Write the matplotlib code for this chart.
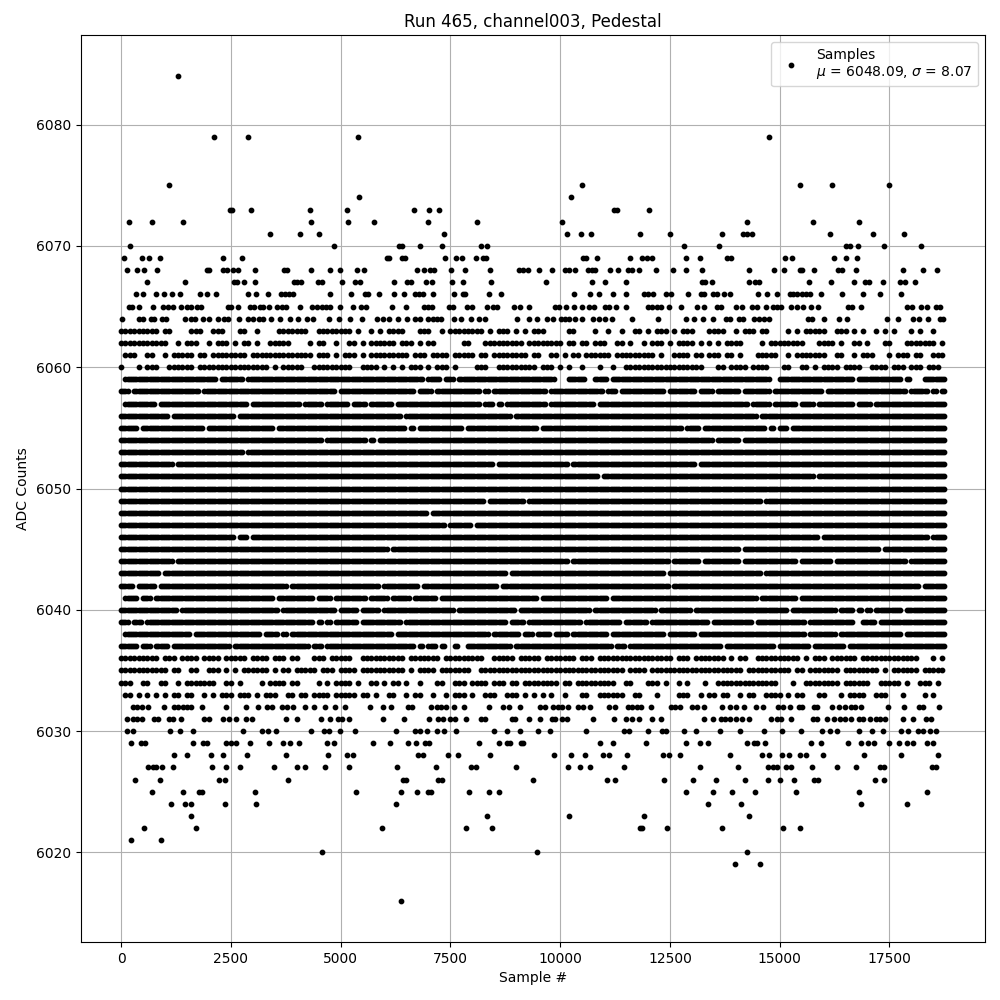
import matplotlib
matplotlib.use('Agg')
import matplotlib.pyplot as plt

# sparse levels: sample numbers
adc_6016 = [6379]
adc_6019 = [13985, 14560]
adc_6020 = [4580, 9477, 14260]
adc_6021 = [234, 921]
adc_6022 = [534, 1708, 5954, 7865, 8452, 11825, 11862, 12437, 13698, 15085, 15472]
adc_6023 = [1595, 8340, 10213, 11912, 14310]
adc_6024 = [1146, 1458, 1583, 2370, 3082, 6267, 13373, 14123, 16858, 17907]
adc_6025 = [696, 1420, 1783, 1845, 3057, 5355, 6379, 6741, 6991, 7066, 7928, 8390, 8615, 12874, 13486, 13923, 14448,
            15372, 16808, 18357]
adc_6026 = [327, 896, 2239, 2376, 3810, 6421, 6490, 7230, 7310, 9389, 11074, 11256, 12372, 13032, 13556, 14217, 14740,
            15014, 15332, 15788, 15879, 17177, 17382]
adc_6027 = [622, 736, 797, 941, 1192, 2072, 2399, 2717, 3491, 4015, 4197, 4653, 5199, 6292, 7180, 7977, 8091, 9002,
            10186, 10459, 10687, 11461, 13192, 14057, 14740, 14854, 14945, 15150, 15264, 15742, 16311, 16744, 17291,
            17382, 18475, 18566]
adc_6028 = [1214, 1511, 2057, 2330, 2877, 3765, 4721, 5154, 5290, 6770, 6884, 7454, 7681, 8410, 9867, 10254, 10573,
            10983, 11120, 11529, 12349, 12486, 12736, 13875, 14604, 14763, 15059, 15218, 15469, 15606, 15993, 16926,
            17769, 18611]
adc_6029 = [235, 463, 546, 1632, 1875, 1966, 2399, 2512, 2626, 2938, 3378, 3697, 3856, 4061, 4698, 4858, 5746, 6133,
            6543, 6725, 6930, 7021, 8159, 8615, 8797, 8865, 9116, 9161, 10915, 11211, 11962, 12873, 13192, 13374,
            14262, 14422, 14490, 14672, 15720, 15947, 16562, 16858, 17017, 17154, 17495, 17723, 17905, 18042, 18361,
            18497]
adc_6030 = [144, 281, 1123, 1351, 1647, 2786, 3218, 3355, 3537, 4334, 4630, 4744, 4994, 5336, 6269, 6702, 6816, 6975,
            7203, 7362, 7636, 8501, 8797, 9093, 9503, 9776, 10596, 11461, 11575, 12008, 12326, 12417, 12827, 13100,
            13647, 14103, 14649, 15059, 15492, 15963, 16152, 16311, 16812, 17108, 17359, 17769, 17928, 18156, 18270,
            18431, 18566]
adc_6031 = [144, 281, 372, 486, 759, 850, 1101, 1192, 1374, 1898, 2012, 2330, 2467, 2626, 2854, 2991, 3765, 4015, 4562,
            4767, 4949, 5040, 5199, 5974, 6444, 7021, 7226, 7340, 7499, 7613, 7863, 8205, 8296, 8911, 8979, 9298, 9548,
            9822, 9890, 10049, 10163, 10755, 11233, 11506, 11643, 11803, 12099, 12304, 13283, 13488, 13670, 13761,
            13875, 14012, 14148, 14308, 14809, 14945, 15036, 15264, 15765, 15856, 16084, 16243, 16380, 16494, 16630,
            16812, 16904, 17063, 17200, 17291, 17404, 17814, 18042, 18338, 18452]
adc_6032 = [281, 372, 486, 622, 987, 1214, 1305, 1420, 1511, 1602, 1852, 2399, 2854, 3127, 3332, 3446, 3674, 3787, 3924,
            4197, 4402, 4653, 4880, 5108, 5677, 5974, 6155, 6543, 6634, 7066, 7203, 7294, 7408, 7590, 7818, 8387, 8706,
            8843, 9093, 9548, 9662, 9844, 9958, 10049, 10186, 10414, 10528, 10687, 11120, 11256, 11552, 11643, 11757,
            11848, 12076, 12531, 12622, 12736, 13009, 13124, 13283, 13693, 13875, 14012, 14194, 14467, 14626, 14968,
            15082, 15241, 15446, 15515, 15788, 15856, 16198, 16357, 16494, 16630, 16721, 16858, 17473, 17837, 18178,
            18270, 18634]
adc_6064 = [31, 418, 509, 691, 759, 941, 1032, 1465, 1602, 1693, 1875, 2012, 2216, 2353, 2444, 2695, 2900, 3013, 3150,
            3241, 3423, 3628, 3856, 4038, 4243, 4380, 4744, 4972, 5222, 5495, 5837, 5974, 6110, 6315, 6520, 6702, 6816,
            6998, 7112, 7203, 7294, 7590, 7750, 7977, 8159, 8296, 9025, 9298, 9480, 9708, 9844, 10027, 10118, 10209,
            10345, 10505, 10755, 10892, 11028, 11188, 11643, 12235, 12873, 13055, 13260, 13488, 13784, 13875, 14080,
            14171, 14422, 14535, 14649, 14763, 15651, 15742, 16015, 16357, 16539, 17450, 17700, 18042, 18178, 18384,
            18657, 18725]
adc_6065 = [190, 258, 418, 736, 964, 1078, 1192, 1374, 1511, 1602, 1738, 1829, 2444, 2512, 2672, 2945, 3036, 3173, 3241,
            3378, 3560, 3674, 3765, 4083, 4357, 4471, 4585, 4675, 4767, 4994, 5290, 5472, 5586, 6178, 6497, 6907, 6998,
            7089, 7476, 7567, 7886, 8000, 8342, 8478, 8569, 8956, 9093, 9298, 9890, 9981, 10140, 10323, 10505, 10664,
            10778, 11028, 11120, 11279, 11507, 12008, 12099, 12213, 12304, 12486, 12759, 13124, 13283, 13579, 13670,
            14012, 14148, 14376, 14490, 14695, 14854, 14945, 15036, 15264, 15401, 15538, 15719, 15879, 16562, 16653,
            16858, 17905, 18020, 18224, 18361, 18566, 18657]
adc_6066 = [349, 509, 805, 987, 1169, 1351, 1806, 1966, 2171, 2900, 3082, 3355, 3651, 3742, 3833, 3924, 4767, 5245, 5564,
            5632, 5882, 6224, 6452, 6702, 6793, 6884, 7112, 7590, 7795, 7841, 8387, 8660, 10323, 10687, 10892, 11211,
            11507, 11917, 12008, 12122, 12417, 12531, 12919, 13215, 13283, 13488, 13579, 13738, 13875, 14513, 14718,
            14945, 15241, 15310, 15401, 15515, 15606, 15697, 15947, 16425, 16904, 17291, 17769]
adc_6067 = [600, 1465, 2581, 2649, 2808, 3059, 3947, 4015, 4106, 4493, 4585, 5040, 5336, 5450, 6224, 6505, 6596, 6953,
            7089, 7545, 7795, 8433, 9685, 10733, 11028, 11507, 13238, 13306, 13465, 14308, 14444, 14535, 15674, 16175,
            16699, 16949, 17040, 17359, 17746, 17860, 18088]
adc_6068 = [144, 372, 531, 827, 1951, 2012, 2330, 2421, 2558, 2664, 3059, 3719, 3780, 4334, 4767, 4994, 5381, 5541, 6748,
            6907, 7044, 7135, 7522, 7841, 8410, 9070, 9161, 9275, 9526, 9822, 10118, 10209, 10345, 10642, 10733, 10801,
            11142, 11325, 11552, 11643, 11803, 12190, 12577, 12858, 13238, 14308, 14877, 15105, 15469, 15515, 15788,
            16334, 16425, 16744, 17814, 18270, 18589]
adc_6069 = [76, 478, 630, 896, 2330, 2763, 6049, 6095, 6391, 6459, 7385, 7628, 7772, 8091, 8250, 8311, 10512, 10588,
            10846, 11598, 11871, 11970, 12099, 12873, 13192, 13792, 13883, 15127, 15272, 16243, 16516, 16767]
adc_6070 = [213, 4858, 6338, 6391, 6816, 7317, 8205, 8342, 12827, 13625, 16501, 16600, 16790, 17382, 18224]
adc_6071 = [3400, 4083, 4516, 7362, 10163, 10482, 10710, 11825, 12493, 13678, 14156, 14247, 14361, 16152, 17131, 17837]
adc_6072 = [171, 708, 1420, 4331, 5180, 5767, 6991, 8115, 10051, 14260, 15759, 16808]
adc_6073 = [2490, 2530, 2969, 4306, 5155, 6679, 7016, 7253, 11225, 11300, 12025]
adc_6074 = [5430, 10250]
adc_6075 = [1096, 10500, 15472, 16196, 17495]
adc_6079 = [2120, 2894, 5405, 14760]
adc_6084 = [1308]

sparse_rows = [(6016, adc_6016), (6019, adc_6019), (6020, adc_6020), (6021, adc_6021), (6022, adc_6022),
               (6023, adc_6023), (6024, adc_6024), (6025, adc_6025), (6026, adc_6026), (6027, adc_6027),
               (6028, adc_6028), (6029, adc_6029), (6030, adc_6030), (6031, adc_6031), (6032, adc_6032),
               (6064, adc_6064), (6065, adc_6065), (6066, adc_6066), (6067, adc_6067), (6068, adc_6068),
               (6069, adc_6069), (6070, adc_6070), (6071, adc_6071), (6072, adc_6072), (6073, adc_6073),
               (6074, adc_6074), (6075, adc_6075), (6079, adc_6079), (6084, adc_6084)]

# edge of the band: one character per 100 samples, # = a sample is seen there
coarse_width = 100
mask_6033 = ".##.#.#.#. #.##.##..# .#.###.### .#.###..## .##.####.# ####.##.#. .##..#.##. .#..#.###. #..###..## #.#.#.#.#. .#...##..# #####..##. ..#....### ..#.##.##. .#.##..### #.#.##...# #...#.#### ..###...#. ...#.#.."
mask_6034 = "###..##..# #..#.##### ##..##.#.. ..#.####.# #....#.#.# ###.#..##. #.##.#..#. ..##..###. ####.###.# #.######## .##.###### ###..##... ###.#..#.# ...#..#### ########## ...#..#### ####.##### #..#####.# ..###.#."
mask_6035 = "########## #.##..##.. ###.#.#.## ####.#.##. #####.###. ####.##### #####.#.## ##.####### ..######## ########## ########## #####.#### .######### ########## ##.####### ###.##.### ####.##### ###.#.#### ##.#####"
mask_6036 = "#########. ###.####.# ###.#####. ####.###.# #...###.## ###..##### #####.#### ###.###### ###..##### .#####.### ####.###.# ########## ######.### .#######.# .##..##### #####.#.## #.######.# ########## ##...#.#"
mask_6060 = "#...#.###. .######.## ########## ####.#.### ##..###### ###..####. #.#.#.###. #.###.#... .###..#### #####.###. #.#..#...# ..#..##### ########## ###...##.# ###.####.. .##..##.#. ####.####. .####.###. ###.###."
mask_6061 = ".###..##.. #.#####.## .########. ########## ####.###.# .###.#.### ######.### .####.#### #.##.##### ###.##..## .#.##.#### ##.####### ##.#..#### .##.###.## .#...##### ..#.###### #..##..#.# ##...#.### .##..###"
mask_6062 = "########## #..#.###.. #.###.#.## .#..#####. ...#.##..# ..##.#.### ###.###.#. ##......## ...####### ##.####### #.##.##.## #..##.#..# .###.#.### #.#.#.#.## ##....#.## ######...# ###.#..##. #...##...# ######.#"
mask_6063 = "#########. ##....###. .###...##. .#....#### ###..##### ###.#..#.# .####...## #..#.##### ###.#.###. #.#.###... ..##....#. .#..#..##. #.###.#.## #...####.. #.###.##.. ..#.#.#### #..###.#.# ..#.#.#... #.#..#.."

coarse_rows = [(6033, mask_6033), (6034, mask_6034), (6035, mask_6035), (6036, mask_6036),
               (6060, mask_6060), (6061, mask_6061), (6062, mask_6062), (6063, mask_6063)]

# middle of the band: one character per 50 samples
fine_width = 50
mask_6037 = "########..####..#### ##..################ ##########..######## #################### ######..####..###### #################### ##############..##.. ####..##....##....## ##################.. #################### #################### ####..####..######## #################### ##############..#### ##################.. ##############..#### ##########..######## #################### ################"
mask_6038 = "..################## ############..###### #################### ####..######..##..## #################### #################### ####..############## #################### ########..########## ##..####..######..## ####..############## ##..################ ########..########## ##..################ #################### ############..###### ######..############ ################..## ################"
mask_6039 = "####..####..######## #################### #################### #################### ########..##..##..## ########..########## ########..########## #################### ################..## ####..############## ##########..######## ########..########## ..################## ########..########## ########..########## ############..###### ##############....## ####..############## ################"
mask_6040 = "#################### ######..############ #################### ############..###### ##################.. ########..########.. #################### ############..###### #################### ..################## ##############..#### #################### ####..############## ..################## #################### ####..############## ######..######..##.. ##..############..## ################"
mask_6041 = "..######..####..#### #################### #################### ##########..######## ########..######..## ############..###### ##..########..###### ####..############## #################### ##########..######## #################### ##..################ #################### #################### ##########..######## ########..########## #################### #################### ################"
mask_6042 = "######..########..## #################### #################### ################..## #################### ##################.. ################..## #################### ############..###### #################### #################### #################### ##########..######## #################### #################### #################### #################### #################### ####..##########"
mask_6043 = "##################.. #################### #################### #################### #################### #################### #################### #################### ################..## #################### #################### #################### ########..########## #################### ############..###### #################### #################### #################### ################"
mask_6044 = "#################### ####..############## #################### #################### #################### #################### #################### #################### #################### #################### ####..############## #################### ##########..######## ####..############## ##..################ ########..########## ####..############## ##################.. ################"
mask_6045 = "#################### #################### #################### #################### #################### #################### ##..################ #################### #################### #################### #################### #################### #################### #################### ##..################ #################### #################### ######..############ ################"
mask_6046 = "#################### #################### ############..####.. #################### #################### #################### #################### #################### #################### #################### #################### #################### #################### #################### #################### ##################.. #################### #################### ########..######"
mask_6047 = "#################### #################### #################### #################### #################### #################### #################### ########..########## ..################## #################### #################### #################### #################### #################### #################### #################### #################### #################### ################"
mask_6048 = "#################### #################### #################### #################### #################### #################### #################### ..################## #################### #################### #################### #################### #################### #################### #################### #################### #################### #################### ################"
mask_6049 = "#################### #################### #################### #################### #################### #################### #################### #################### ######..############ ####..############## #################### #################### #################### #################### ############..###### #################### #################### #################### ################"
mask_6050 = "#################### #################### #################### #################### #################### #################### #################### #################### #################### #################### #################### #################### #################### #################### #################### #################### #################### #################### ################"
mask_6051 = "#################### #################### #################### #################### #################### #################### #################### #################### #################### #################### ##################.. #################### #################### #################### #################### ################..## #################### #################### ################"
mask_6052 = "#################### ####..############## #################### #################### #################### #################### #################### #################### ##########..######## #################### ####..############## #################### #################### ##..################ #################### #################### #################### #################### ################"
mask_6053 = "#################### #################### ################..## #################### #################### #################### #################### #################### #################### #################### #################### #################### #################### #################### #################### #################### #################### #################### ################"
mask_6054 = "#################### #################### #################### #################### ############..###### ############..##..## #################### #################### #################### #################### #################### #################### #################### ##########..######## ##..################ #################### #################### #################### ################"
mask_6055 = "########..########## ##################.. #################### ##########..######## #################### #################### ##########..##..#### ################..## #################### ##########..######## #################### #################### ################..## ####..############## ##############..##.. ####..############## #################### #################### ################"
mask_6056 = "#################### ##..################ ############..###### #################### #################### #################### ########..########## #################### ##################.. #################### #################### #################### #################### #################### ##########..######## #################### #################### #################### ################"
mask_6057 = "..##############..## #################### ##################.. #################### ##..########..###### ####..######..###### ####..############## #################### ####..####..##..#### ##############..#### ################..## #################### #################### #################### ######..########..## ########..######..## ##############..#### ##..################ ################"
mask_6058 = "####..############## ################..## #################### #################### ##################.. #################### ##############..#### ##..################ ####..##..########## ##############..#### #################### ..####..############ ########..########## ##..######..######## ##..############..## #################### ..################## ##################.. ########..##..##"
mask_6059 = "..################## #################### ####..##########..## #################### #################### #################### ##################.. ######..####..###### #################### ##################.. ....########....#### ##..################ #################### #################### ################.... #################### ##############..#### ################..## ......##########"

fine_rows = [(6037, mask_6037), (6038, mask_6038), (6039, mask_6039), (6040, mask_6040), (6041, mask_6041),
             (6042, mask_6042), (6043, mask_6043), (6044, mask_6044), (6045, mask_6045), (6046, mask_6046),
             (6047, mask_6047), (6048, mask_6048), (6049, mask_6049), (6050, mask_6050), (6051, mask_6051),
             (6052, mask_6052), (6053, mask_6053), (6054, mask_6054), (6055, mask_6055), (6056, mask_6056),
             (6057, mask_6057), (6058, mask_6058), (6059, mask_6059)]

run_number = 465
channel = 'channel003'
mean_adc = 6048.09
sigma_adc = 8.07

samples = []
counts = []
for level, xs in sparse_rows:
    for s in xs:
        samples.append(s)
        counts.append(level)
for rows, width in [(coarse_rows, coarse_width), (fine_rows, fine_width)]:
    for level, mask in rows:
        mask = mask.replace(' ', '')
        for i, c in enumerate(mask):
            if c == '#':
                samples.append(i * width)
                counts.append(level)

fig, ax = plt.subplots(figsize=(10, 10))
ax.plot(samples, counts, 'k.', markersize=6.3,
        label='Samples\n$\\mu$ = {:.2f}, $\\sigma$ = {:.2f}'.format(mean_adc, sigma_adc))
ax.set_title('Run {}, {}, Pedestal'.format(run_number, channel))
ax.set_xlabel('Sample #')
ax.set_ylabel('ADC Counts')
ax.set_xlim(-911, 19676)
ax.set_ylim(6012.6, 6087.4)
ax.grid(True)
ax.legend(loc='upper right')
fig.subplots_adjust(left=0.081, right=0.985, top=0.965, bottom=0.058)
fig.savefig('out.png', dpi=100)
